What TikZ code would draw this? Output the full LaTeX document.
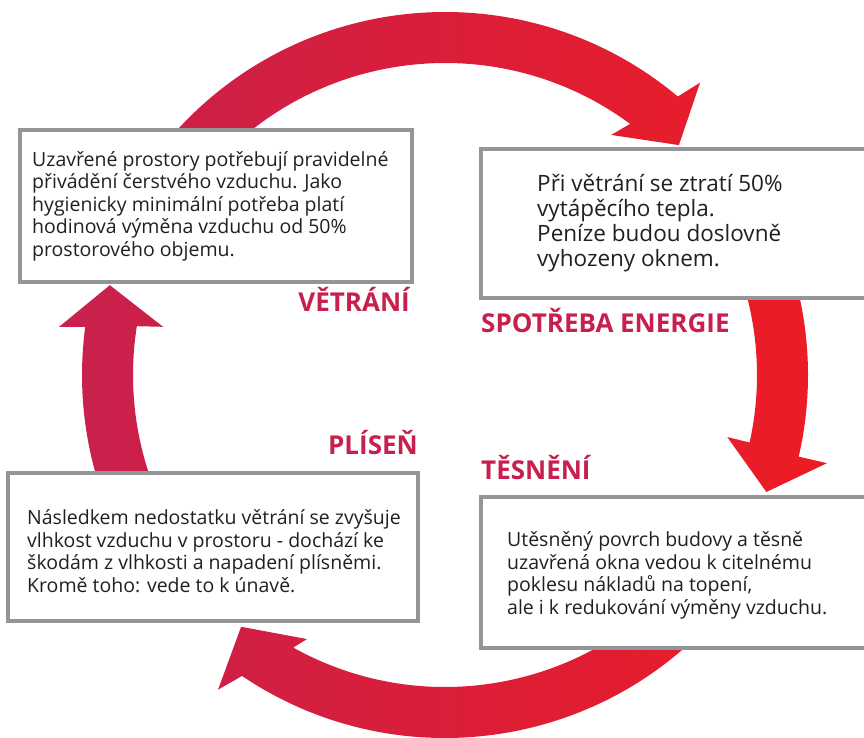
\documentclass[tikz,border=0pt]{standalone}
\usepackage{fontspec}
\setmainfont{Open Sans}
\usetikzlibrary{positioning}
\definecolor{crimson}{RGB}{200,32,78}
\definecolor{arrowred}{RGB}{237,28,36}
\definecolor{boxgray}{RGB}{147,149,152}
\definecolor{textdark}{RGB}{35,31,32}
\tikzset{
    info-box/.style = {draw=boxgray, fill=white, line width=4pt, rectangle, inner sep=0pt, outer sep=0pt},
    info-text/.style = {align=left, text=textdark, inner sep=0pt, font=\fontsize{19.5}{22.5}\selectfont},
    cycle-label/.style = {text=crimson, inner sep=0pt, font=\bfseries\fontsize{26}{28}\selectfont},
}

\begin{document}
\begin{tikzpicture}[x=1pt, y=1pt]
\useasboundingbox (0,0) rectangle (864,738);
\clip (0,0) rectangle (864,738);
\coordinate (c) at (445,363);
% the four arrows of the cycle, one shading for all
\shade[left color=crimson, right color=arrowred]
    ([shift={(140:363)}]c) arc[start angle=140, end angle=50.1, radius=363]
        -- ([shift={(48.9:388)}]c) -- ([shift={(44.5:328)}]c) -- ([shift={(55.3:292)}]c)
        -- ([shift={(53.6:312)}]c) arc[start angle=53.6, end angle=140, radius=312] -- cycle
    ([shift={(20:363)}]c) arc[start angle=20, end angle=-13, radius=363]
        -- ([shift={(-13:392)}]c) -- ([shift={(-20:342)}]c) -- ([shift={(-12.4:289)}]c)
        -- ([shift={(-12.5:312)}]c) arc[start angle=-12.5, end angle=20, radius=312] -- cycle
    ([shift={(320:363)}]c) arc[start angle=320, end angle=236, radius=363]
        -- ([shift={(234.2:388)}]c) -- ([shift={(231:324)}]c) -- ([shift={(242.4:298)}]c)
        -- ([shift={(240.9:312)}]c) arc[start angle=240.9, end angle=320, radius=312] -- cycle
    ([shift={(200:363)}]c) arc[start angle=200, end angle=172.4, radius=363]
        -- ([shift={(172.9:389)}]c) -- ([shift={(165:347)}]c) -- ([shift={(170.3:286)}]c)
        -- ([shift={(171:312)}]c) arc[start angle=171, end angle=200, radius=312] -- cycle;

% boxes
\node[info-box, minimum width=392pt, minimum height=152pt] (vetrani) at (216,532) {};
\node[info-box, minimum width=399pt, minimum height=149pt] (spotreba) at (680.5,514.5) {};
\node[info-box, minimum width=410pt, minimum height=148pt] (plisen) at (213,191) {};
\node[info-box, minimum width=399pt, minimum height=151pt] (tesneni) at (680.5,165.5) {};

\node[info-text, anchor=west] (vetrani-text) at ([xshift=12pt]vetrani.west) {Uzavřené prostory potřebují pravidelné\\
přivádění čerstvého vzduchu. Jako\\
hygienicky minimální potřeba platí\\
hodinová výměna vzduchu od 50\%\\
prostorového objemu.};
\node[info-text, anchor=west, font=\fontsize{22.5}{25}\selectfont] (spotreba-text) at ([xshift=56pt]spotreba.west) {Při větrání se ztratí 50\%\\
vytápěcího tepla.\\
Peníze budou doslovně\\
vyhozeny oknem.};
\node[info-text, anchor=west] (plisen-text) at ([shift={(19pt,-4pt)}]plisen.west) {Následkem nedostatku větrání se zvyšuje\\
vlhkost vzduchu v prostoru - dochází ke\\
škodám z vlhkosti a napadení plísněmi.\\
Kromě toho: vede to k únavě.};
\node[info-text, anchor=west, font=\fontsize{19.5}{22.5}\selectfont] (tesneni-text) at ([shift={(26pt,-3pt)}]tesneni.west) {Utěsněný povrch budovy a těsně\\
uzavřená okna vedou k citelnému\\
poklesu nákladů na topení,\\
ale i k redukování výměny vzduchu.};

% labels
\node[cycle-label, anchor=base east] (vetrani-label) at ([shift={(-2,-30)}]vetrani.south east) {VĚTRÁNÍ};
\node[cycle-label, anchor=base west] (spotreba-label) at ([yshift=-35]spotreba.south west) {SPOTŘEBA ENERGIE};
\node[cycle-label, anchor=base east] (plisen-label) at ([yshift=18]plisen.north east) {PLÍSEŇ};
\node[cycle-label, anchor=base west] (tesneni-label) at ([yshift=17]tesneni.north west) {TĚSNĚNÍ};
\end{tikzpicture}
\end{document}
